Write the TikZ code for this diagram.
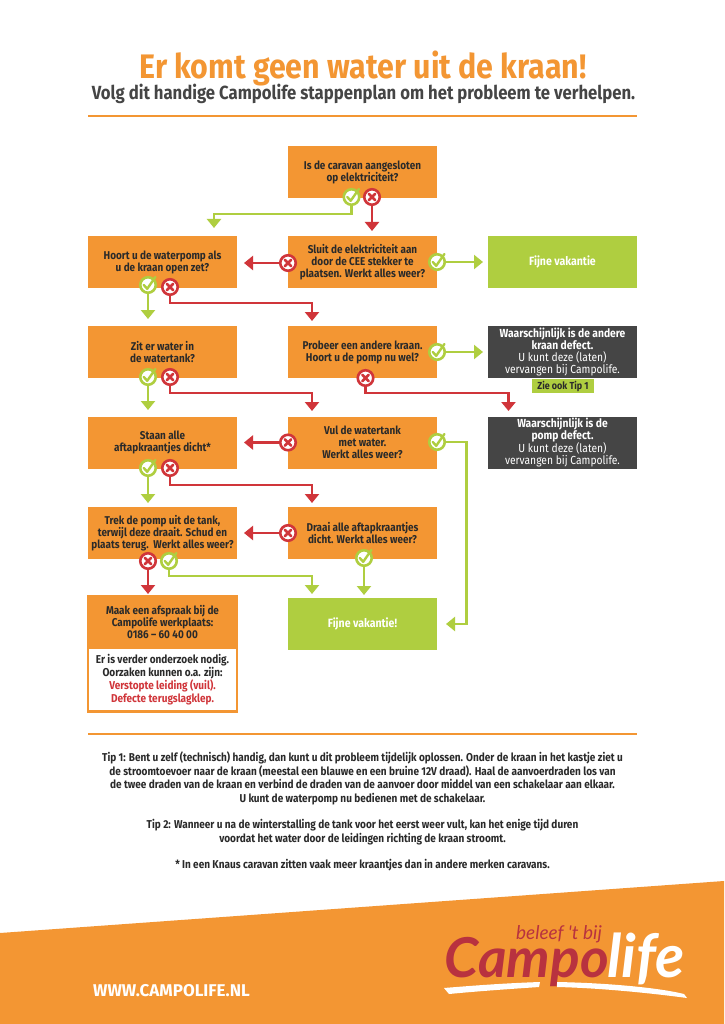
\documentclass[tikz,border=0pt]{standalone}
\usepackage{fontspec}
\setmainfont{Fira Sans}[FakeStretch=0.88]
\newfontfamily\wideff{Fira Sans}
\newfontfamily\logoff{Lato}
\usetikzlibrary{arrows.meta,calc}
\definecolor{cOrange}{HTML}{F39633}
\definecolor{cGreen}{HTML}{AFCE40}
\definecolor{cRed}{HTML}{D0353A}
\definecolor{cDark}{HTML}{454545}
\definecolor{cInk}{HTML}{2A2A2A}
\definecolor{cLogo}{HTML}{B8323F}
\tikzset{
  flowbox/.style={minimum width=149pt,minimum height=52pt,inner sep=0pt,align=center,text=cInk,
    font=\fontsize{11.3}{12}\selectfont\bfseries},
  qbox/.style={flowbox,fill=cOrange},
  gbox/.style={flowbox,fill=cGreen,text=white,font=\fontsize{12}{12}\selectfont\bfseries},
  dbox/.style={flowbox,fill=cDark,text=white,font=\fontsize{11.7}{12}\selectfont\bfseries},
  okring/.style={circle,draw=cGreen,fill=white,line width=2.6pt,minimum size=15.5pt,inner sep=0pt},
  noring/.style={circle,draw=cRed,fill=white,line width=2.6pt,minimum size=15.5pt,inner sep=0pt},
  okline/.style={draw=cGreen,line width=2.6pt,-{Triangle[width=14pt,length=9pt]}},
  noline/.style={draw=cRed,line width=2.6pt,-{Triangle[width=14pt,length=9pt]}},
  tipline/.style={font=\fontsize{11.4}{13.6}\selectfont\bfseries,text=cInk,align=center,inner sep=0pt},
  rulerline/.style={draw=cOrange,line width=2pt},
}
\newcommand{\okicon}[2]{\node[okring] (#1) at (#2) {};
  \draw[cGreen,line width=2.4pt,line cap=round,line join=round]
    ($(#1)+(-4.2,0)$) -- ($(#1)+(-0.8,3.8)$) -- ($(#1)+(7.4,-8)$);}
\newcommand{\noicon}[2]{\node[noring] (#1) at (#2) {};
  \draw[cRed,line width=2.6pt,line cap=round]
    ($(#1)+(-3.2,-3.2)$) -- ($(#1)+(3.2,3.2)$) ($(#1)+(-3.2,3.2)$) -- ($(#1)+(3.2,-3.2)$);}
\begin{document}
\begin{tikzpicture}[x=1pt,y=-1pt]
\useasboundingbox (0,0) rectangle (724,1024);
\fill[white] (0,0) rectangle (724,1024);
% heading
\node[inner sep=0pt,text=cOrange] (title) at (363,68.5) {\wideff\addfontfeature{FakeStretch=0.893}\fontsize{34}{38}\selectfont\bfseries Er komt geen water uit de kraan!};
\node[inner sep=0pt,text=cDark] (sub) at (363.5,94) {\fontsize{19}{22}\selectfont\bfseries Volg dit handige Campolife stappenplan om het probleem te verhelpen.};
\draw[rulerline] (88,116.5) -- (637,116.5);
% boxes
\node[qbox] (q1) at (362.5,172) {Is de caravan aangesloten\\op elektriciteit?};
\node[qbox] (q2l) at (162.5,262) {Hoort u de waterpomp als\\u de kraan open zet?};
\node[qbox] (q2m) at (362.5,262) {Sluit de elektriciteit aan\\door de CEE stekker te\\plaatsen. Werkt alles weer?};
\node[gbox] (g1) at (562.5,262) {Fijne vakantie};
\node[qbox] (q3l) at (162.5,352) {Zit er water in\\de watertank?};
\node[qbox] (q3m) at (362.5,352) {Probeer een andere kraan.\\Hoort u de pomp nu wel?};
\node[dbox] (d1) at (562.5,352) {Waarschijnlijk is de andere\\kraan defect.\\{\mdseries U kunt deze (laten)}\\{\mdseries vervangen bij Campolife.}};
\node[fill=cGreen,text=cInk,minimum width=62pt,minimum height=14pt,inner sep=0pt,font=\fontsize{10.2}{10}\selectfont\bfseries] (zie) at (563,386) {Zie ook Tip 1};
\node[qbox] (q4l) at (162.5,442.5) {Staan alle\\aftapkraantjes dicht*};
\node[qbox] (q4m) at (362.5,442.5) {Vul de watertank\\met water.\\Werkt alles weer?};
\node[dbox] (d2) at (562.5,442.5) {Waarschijnlijk is de\\pomp defect.\\{\mdseries U kunt deze (laten)}\\{\mdseries vervangen bij Campolife.}};
\node[qbox] (q5l) at (162.5,533) {Trek de pomp uit de tank,\\terwijl deze draait. Schud en\\plaats terug.\ \ Werkt alles weer?};
\node[qbox] (q5m) at (362.5,533) {Draai alle aftapkraantjes\\dicht. Werkt alles weer?};
\node[gbox] (g2) at (362.5,623.5) {Fijne vakantie!};
\node[draw=cOrange,fill=white,line width=2.6pt,minimum width=149pt,minimum height=115pt,inner sep=0pt] (afs) at (162.5,654) {};
\node[fill=cOrange,minimum width=150pt,minimum height=53pt,inner sep=0pt,align=center,text=cInk,
  font=\fontsize{11.3}{12}\selectfont\bfseries] (afstop) at (162.5,622.5) {Maak een afspraak bij de\\Campolife werkplaats:\\0186 – 60 40 00};
\node[inner sep=0pt,align=center,text=cInk,font=\fontsize{11.4}{13}\selectfont\bfseries] (afstxt) at (162.5,679.5)
  {Er is verder onderzoek nodig.\\Oorzaken kunnen o.a. zijn:\\\textcolor{cRed}{Verstopte leiding (vuil).}\\\textcolor{cRed}{Defecte terugslagklep.}};
% decision marks
\okicon{k1}{351.5,197}
\noicon{n1}{372,197}
\noicon{n2m}{288,263}
\okicon{k2m}{437,262}
\okicon{k2l}{148,285}
\noicon{n2l}{170,287}
\noicon{n3m}{365.5,378}
\okicon{k3m}{437,352}
\okicon{k3l}{148,377}
\noicon{n3l}{170,377}
\noicon{n4m}{288,442.5}
\okicon{k4m}{437,442}
\okicon{k4l}{148,468}
\noicon{n4l}{170,468}
\noicon{n5m}{288,533}
\okicon{k5m}{364,558}
\noicon{n5l}{148,561}
\okicon{k5l}{169,561}
% free ends and bends
\coordinate (e1) at (214,228);
\coordinate (e2) at (372,231);
\coordinate (e3) at (483,262);
\coordinate (e4) at (244,263);
\coordinate (e5) at (148,319);
\coordinate (e6) at (312,321);
\coordinate (e7) at (483,352);
\coordinate (e8) at (508.5,411);
\coordinate (e9) at (148,410);
\coordinate (e10) at (312,411);
\coordinate (e11) at (244,442.5);
\coordinate (e12) at (446,624);
\coordinate (e13) at (148,503);
\coordinate (e14) at (312,503);
\coordinate (e15) at (244,533);
\coordinate (e16) at (364,595);
\coordinate (e17) at (148,594);
\coordinate (e18) at (312,594);
% connectors
\draw[okline] (k1.south) |- (214,214) -- (e1);
\draw[noline] (n1.south) -- (e2);
\draw[okline] (k2m.east) -- (e3);
\draw[noline] (n2m.west) -- (e4);
\draw[okline] (k2l.south) -- (e5);
\draw[noline] (n2l.south) |- (312,303) -- (e6);
\draw[okline] (k3m.east) -- (e7);
\draw[noline] (n3m.south) |- (508.5,393) -- (e8);
\draw[okline] (k3l.south) -- (e9);
\draw[noline] (n3l.south) |- (312,393) -- (e10);
\draw[noline] (n4m.west) -- (e11);
\draw[okline] (k4m.east) -- (466.5,442) -- (466.5,624) -- (e12);
\draw[okline] (k4l.south) -- (e13);
\draw[noline] (n4l.south) |- (312,485) -- (e14);
\draw[noline] (n5m.west) -- (e15);
\draw[okline] (k5m.south) -- (e16);
\draw[noline] (n5l.south) -- (e17);
\draw[okline] (k5l.south) |- (312,576) -- (e18);
% tips
\draw[rulerline] (88,733.5) -- (637,733.5);
\node[tipline] (tip1) at (362.5,778.5) {Tip 1: Bent u zelf (technisch) handig, dan kunt u dit probleem tijdelijk oplossen. Onder de kraan in het kastje ziet u\\de stroomtoevoer naar de kraan (meestal een blauwe en een bruine 12V draad). Haal de aanvoerdraden los van\\de twee draden van de kraan en verbind de draden van de aanvoer door middel van een schakelaar aan elkaar.\\U kunt de waterpomp nu bedienen met de schakelaar.};
\node[tipline] (tip2) at (362.5,832) {Tip 2: Wanneer u na de winterstalling de tank voor het eerst weer vult, kan het enige tijd duren\\voordat het water door de leidingen richting de kraan stroomt.};
\node[tipline] (tip3) at (362.5,865) {* In een Knaus caravan zitten vaak meer kraantjes dan in andere merken caravans.};
% footer band
\fill[cOrange] (0,933) -- (724,881) -- (724,1024) -- (0,1024) -- cycle;
\node[inner sep=0pt,anchor=west,text=white] (web) at (93,991) {\wideff\fontsize{17}{18}\selectfont\bfseries WWW.CAMPOLIFE.NL};
% logo
\node[inner sep=0pt,anchor=base east,text=cLogo,text height=30pt] (campo) at (609,977) {\logoff\fontsize{55}{60}\selectfont\bfseries\itshape Campo};
\node[inner sep=0pt,anchor=base west,text=white] (life) at (607,977) {\logoff\fontsize{60}{60}\selectfont\bfseries\itshape life};
\node[inner sep=0pt,anchor=base,text=cLogo] (bel) at (559,939.5) {\logoff\fontsize{19}{22}\selectfont\itshape beleef 't bij};
\fill[white] (444,988) .. controls (480,985) and (510,983) .. (540,982) -- (539,987) .. controls (510,989) and (480,991) .. (449,994) -- cycle;
\fill[white] (557,982) .. controls (610,983) and (660,988) .. (684,994) -- (687,998) .. controls (650,993) and (600,988) .. (557,987) -- cycle;
\end{tikzpicture}
\end{document}
